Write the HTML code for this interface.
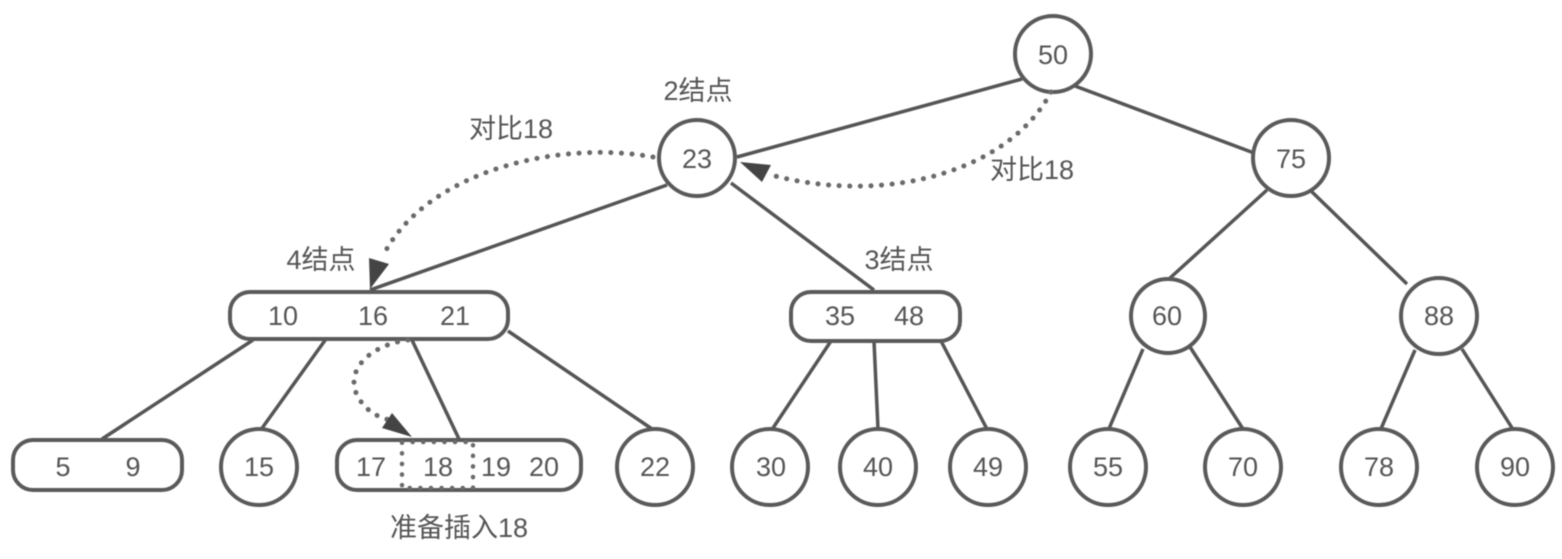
<!DOCTYPE html>
<html><head><meta charset="utf-8"><style>
html,body{margin:0;padding:0;background:#fff}
svg{display:block;filter:blur(0.4px)}
text{font-family:"Liberation Sans","Noto Sans CJK SC",sans-serif;font-size:27px;fill:#555;text-anchor:middle}
.l{stroke:#555;stroke-width:3.5;fill:none}
.n{stroke:#5a5a5a;stroke-width:4;fill:#fff}
.d{stroke:#6a6a6a;stroke-width:5;fill:none;stroke-linecap:round;stroke-dasharray:0.1 10.5}
.a{fill:#444}
</style></head><body>
<svg width="1562" height="559" viewBox="0 0 1562 559" xmlns="http://www.w3.org/2000/svg">
<!-- edges -->
<path class="l" d="M1022 79L737 157M1075 86L1254 153M667 185L370 290M731 183L874 290M1267 190L1170 278M1310 190L1407 284M253 340L102 439M326 339L260 431M411 338L459 439M508 331L655 431M831 341L771 431M874 341L878 429M941 341L988 431M1143 349L1108 431M1190 347L1243 429M1415 350L1380 431M1462 349L1514 431"/>
<!-- nodes -->
<circle class="n" cx="1053" cy="54" r="38"/>
<circle class="n" cx="697" cy="158" r="38"/>
<circle class="n" cx="1291" cy="158" r="38"/>
<circle class="n" cx="1168" cy="316" r="37"/>
<circle class="n" cx="1439" cy="316" r="38"/>
<rect class="n" x="230" y="292" width="278" height="47" rx="20"/>
<rect class="n" x="791" y="292" width="169" height="49" rx="20"/>
<rect class="n" x="13" y="440" width="169" height="50" rx="20"/>
<rect class="n" x="337" y="440" width="244" height="50" rx="20"/>
<circle class="n" cx="259" cy="467" r="38"/>
<circle class="n" cx="655" cy="467" r="38"/>
<circle class="n" cx="770" cy="467" r="38"/>
<circle class="n" cx="878" cy="467" r="38"/>
<circle class="n" cx="988" cy="467" r="38"/>
<circle class="n" cx="1108" cy="467" r="38"/>
<circle class="n" cx="1243" cy="467" r="38"/>
<circle class="n" cx="1379" cy="467" r="38"/>
<circle class="n" cx="1515" cy="467" r="38"/>
<!-- dotted -->
<path class="d" d="M1051 92C1010 170 890 205 775 176"/>
<path class="d" d="M653 157C560 140 430 170 385 252"/>
<path class="d" d="M408 340C370 345 345 370 357 395C364 409 376 417 390 420"/>
<rect x="402" y="442" width="71" height="46" fill="none" stroke="#6a6a6a" stroke-width="4.5" stroke-linecap="round" stroke-dasharray="0.1 10.5"/>
<!-- arrowheads -->
<polygon class="a" points="740,162 771,165 762,182"/>
<polygon class="a" points="370,289 369,258 389,264"/>
<polygon class="a" points="412,437 382,428 392,413"/>
<!-- numbers -->
<text x="1053" y="64">50</text>
<text x="697" y="168">23</text>
<text x="1291" y="168">75</text>
<text x="283" y="325">10</text>
<text x="373" y="325">16</text>
<text x="455" y="325">21</text>
<text x="840" y="325">35</text>
<text x="909" y="325">48</text>
<text x="1167" y="325">60</text>
<text x="1439" y="325">88</text>
<text x="63" y="476">5</text>
<text x="133" y="476">9</text>
<text x="259" y="476">15</text>
<text x="371" y="476">17</text>
<text x="438" y="476">18</text>
<text x="496" y="476">19</text>
<text x="544" y="476">20</text>
<text x="655" y="476">22</text>
<text x="771" y="476">30</text>
<text x="878" y="476">40</text>
<text x="988" y="476">49</text>
<text x="1108" y="476">55</text>
<text x="1243" y="476">70</text>
<text x="1379" y="476">78</text>
<text x="1515" y="476">90</text>
<!-- labels -->
<text x="698" y="100">2结点</text>
<text x="511" y="138">对比18</text>
<text x="1032" y="179">对比18</text>
<text x="321" y="269">4结点</text>
<text x="899" y="269">3结点</text>
<text x="459" y="537">准备插入18</text>
</svg>
</body></html>
